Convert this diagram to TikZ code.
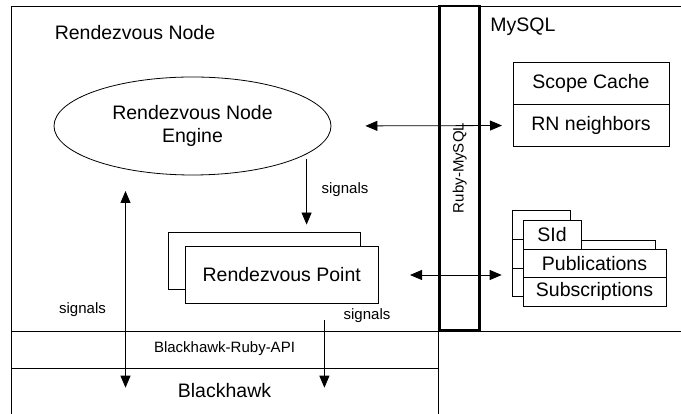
\documentclass[tikz,border=0pt]{standalone}
\usepackage{fontspec}
\setmainfont{Liberation Sans}
\usepackage{xcolor}
\definecolor{cLine}{HTML}{000000}
\definecolor{cText}{HTML}{000000}
\usetikzlibrary{positioning,arrows.meta,shapes.geometric}
\tikzset{
  txt-big/.style={font=\fontsize{19.5}{23}\selectfont,text=cText},
  txt-small/.style={font=\fontsize{15}{18}\selectfont,text=cText},
  node-box/.style={draw=cLine,line width=0.8pt,inner sep=0pt,outer sep=0pt,
    align=center,txt-big},
  node-engine/.style={draw=cLine,line width=0.8pt,ellipse,inner sep=0pt,
    minimum width=277pt,minimum height=98pt,align=center,txt-big},
  node-bar/.style={draw=cLine,line width=2.6pt,inner sep=0pt,txt-small},
  frame/.style={draw=cLine,line width=0.8pt},
  arrow/.style={-{Triangle[length=12pt,width=10pt]},line width=0.8pt,draw=cLine},
  arrow-both/.style={{Triangle[length=12pt,width=10pt]}-{Triangle[length=12pt,width=10pt]},
    line width=0.8pt,draw=cLine},
}
\begin{document}
\begin{tikzpicture}[x=1pt,y=1pt]
  \useasboundingbox (0,0) rectangle (681,414);
  % frame of the node and the layers below it
  \draw[frame] (11.5,0) -- (11.5,408) -- (681,408);
  \draw[frame] (11.5,82.5) -- (681,82.5);
  \draw[frame] (11.5,46) -- (438.5,46);
  \draw[frame] (438.5,82.5) -- (438.5,0);
  \node[node-bar,rotate=90,minimum width=324pt,minimum height=40pt] (rubymysql) at (459.75,246) {Ruby-MySQL};
  \node[txt-big] (rnlabel) at (135,381) {Rendezvous Node};
  \node[txt-big] (mysqllabel) at (523,387) {MySQL};
  \node[node-engine] (engine) at (192.5,288) {Rendezvous Node\\Engine};
  % MySQL tables
  \node[node-box,minimum width=156pt,minimum height=42pt] (scope) at (591,330.5) {Scope Cache};
  \node[node-box,minimum width=156pt,minimum height=42pt,below=0pt of scope] (rnn) {RN neighbors};
  \draw[frame] (570,193.3) -- (570,204) -- (512.7,204) -- (512.7,117.3) -- (523,117.3);
  \draw[frame] (512.7,174.7) -- (523,174.7);
  \draw[frame] (512.7,145.7) -- (523,145.7);
  \node[node-box,minimum width=58pt,minimum height=28.6pt] (sid) at (552,179) {SId};
  \draw[frame] (sid.east |- 0,173.7) -- (655.7,173.7) -- (655.7,164.7);
  \node[node-box,minimum width=143pt,minimum height=28.4pt] (pubs) at (594.5,150.5) {Publications};
  \node[node-box,minimum width=143pt,minimum height=28.4pt,below=0pt of pubs] (subs) {Subscriptions};
  \coordinate (dbport) at (512.7,139);
  % rendezvous points
  \node[node-box,minimum width=192pt,minimum height=57.5pt] (rpback) at (264,153.25) {};
  \node[node-box,fill=white,minimum width=192.5pt,minimum height=56.5pt] (rp) at (281.75,139) {Rendezvous Point};
  % lower layers
  \node[txt-small] (api) at (224.5,65.6) {Blackhawk-Ruby-API};
  \node[txt-big] (blackhawk) at (224.5,23) {Blackhawk};
  % signals
  \coordinate (sigtop) at (306.6,255);
  \coordinate (sigbot) at (306.6,189.4);
  \coordinate (updown-top) at (125.5,223);
  \coordinate (updown-bot) at (125.5,26.3);
  \coordinate (down-top) at (324.4,94);
  \coordinate (down-bot) at (324.4,26.3);
  \draw[arrow] (sigtop) -- (sigbot);
  \draw[arrow-both] (updown-top) -- (updown-bot);
  \draw[arrow] (down-top) -- (down-bot);
  \node[txt-small] (sig1) at (345,224) {signals};
  \node[txt-small] (sig2) at (82.5,104.5) {signals};
  \node[txt-small] (sig3) at (367,98) {signals};
  \draw[arrow-both,shorten <=34pt,shorten >=11pt] (engine.east) -- (rnn.west);
  \draw[arrow-both,shorten <=32pt,shorten >=0pt] (rp.east) -- ([xshift=-11pt]dbport);
\end{tikzpicture}
\end{document}
